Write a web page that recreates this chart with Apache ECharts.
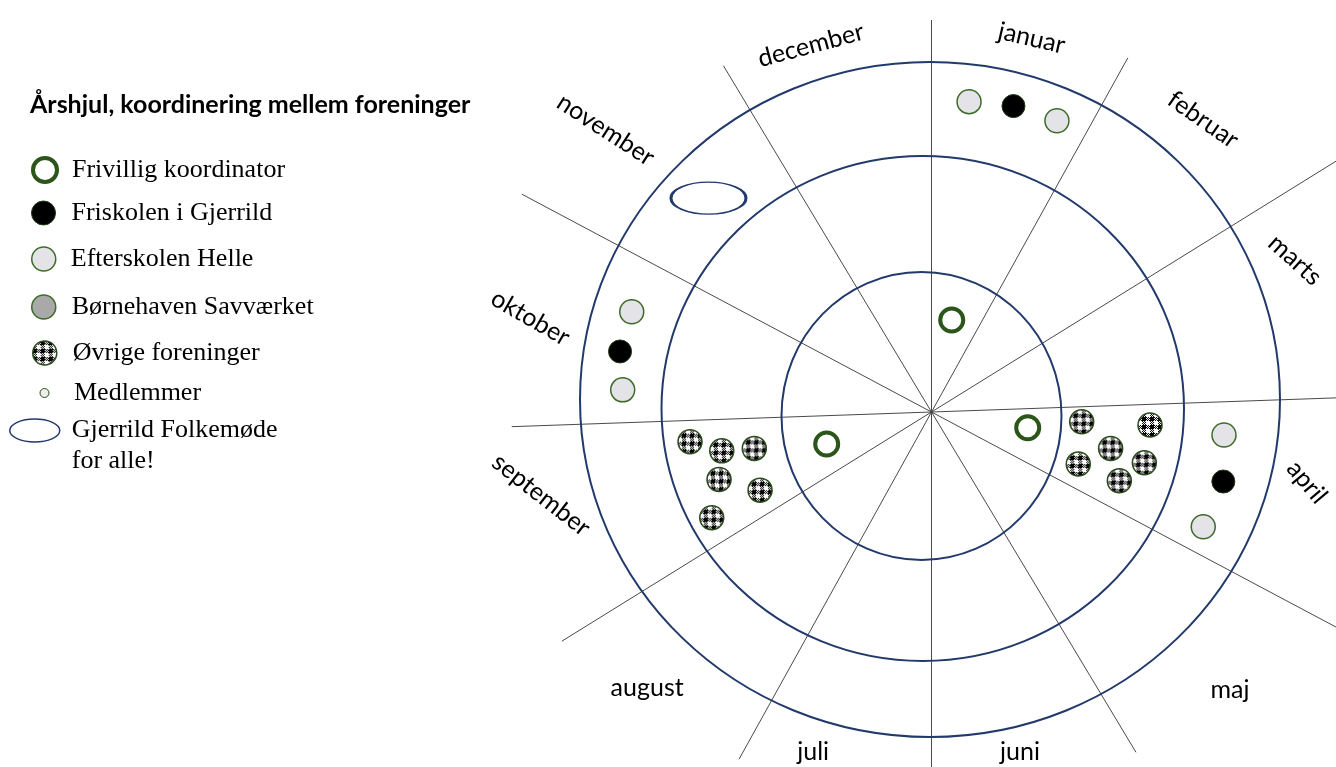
<!DOCTYPE html>
<html><head><meta charset="utf-8">
<script src="https://cdn.jsdelivr.net/npm/echarts@6/dist/echarts.min.js"></script>
<style>html,body{margin:0;padding:0;background:#fff}#c{width:1336px;height:767px}</style>
</head><body><div id="c"></div>
<script>
// ================= DATA =================
// Angles are degrees clockwise from 12 o'clock; radii are wheel units.
const months = ['januar','februar','marts','april','maj','juni','juli','august','september','oktober','november','december'];
const monthLabelAngle  = [15, 42.9, 67.3, 100.6, 133, 165.4, 199.2, 225.9, 258, 283.2, 310.9, 341.8];
const monthLabelRadius = [387, 399, 394, 382, 408, 351, 360, 396, 399, 412, 431, 386];

// month-boundary spokes (each a straight line through the hub)
const spokeAngle     = [0, 29, 58.2, 88, 118, 149];
const spokeLenFwd    = [392, 405, 480, 480, 480, 397];   // length toward spokeAngle
const spokeLenBack   = [480, 397, 435, 420, 464, 404];   // length toward spokeAngle + 180

// the three hand drawn rings, radius measured toward 12, 3, 6 and 9 o'clock
const ringTop    = [140, 256, 350];
const ringRight  = [130, 252.5, 348.5];
const ringBottom = [148, 249, 325];
const ringLeft   = [150, 270, 351.5];

// activities: [radius, angle]
const frivillig   = [[94.2, 12.4], [97.5, 99.3], [109.6, 253]];
const friskolen   = [[316.7, 15.0], [317.3, 281.0], [300, 103.4]];
const efterskolen = [[312.6, 6.9], [317.1, 23.3], [316.1, 288.5], [309.6, 274.1], [293.4, 94.5], [295, 112.9]];
const boernehaven = [];
const oevrige     = [[243.3, 263], [213.3, 259.5], [180.9, 258.4], [222.9, 252.4], [188.4, 245.5], [243.9, 244.3],
                     [150.5, 93.7], [218.9, 93.4], [182.8, 101.5], [155.7, 109.5], [218.8, 103.4], [200, 110.1]];
const medlemmer   = [];
const folkemoede  = [[309, 313.8]];

const titleText = 'Årshjul, koordinering mellem foreninger';
const seriesNames = ['Frivillig koordinator', 'Friskolen i Gjerrild', 'Efterskolen Helle', 'Børnehaven Savværket',
                     'Øvrige foreninger', 'Medlemmer', 'Gjerrild Folkemøde\nfor alle!'];

// ================= STYLE / BUILD =================
const GREEN = '#2c5519', RING = '#22396b', SPOKE = '#4a4a4a';
const labelRotate = [-13, -35, -42, -50, 0, 0, 0, 0, -38, -30, -33, 15];
const ELLIPSE = 'path://M0,10A10,10,0,1,1,20,10A10,10,0,1,1,0,10Z';
const CHECK_SIZE = 24;

function makeGingham() {
  const n = 8, c = document.createElement('canvas'); c.width = n; c.height = n;
  const g = c.getContext('2d');
  g.fillStyle = '#fff'; g.fillRect(0, 0, n, n);
  g.fillStyle = '#000';
  for (let y = 0; y < n; y++) for (let x = 0; x < n; x++) {
    const a = x < 4, b = y < 4;
    if ((a && b) || (a !== b && (x + y) % 2 === 0)) g.fillRect(x, y, 1, 1);
  }
  return c;
}
const ginghamImg = makeGingham();
// scatter symbols are drawn as unit shapes scaled by size/2, so compensate
const ginghamSymbol = { image: ginghamImg, repeat: 'repeat', scaleX: 2 / CHECK_SIZE, scaleY: 2 / CHECK_SIZE };
const ginghamLegend = { image: ginghamImg, repeat: 'repeat' };

const chart = echarts.init(document.getElementById('c'), null, { renderer: 'canvas' });

const series = [];
// spokes
spokeAngle.forEach((a, i) => {
  series.push({
    type: 'line', coordinateSystem: 'polar', silent: true, showSymbol: false, clip: false, z: 1,
    lineStyle: { color: SPOKE, width: 1 },
    data: [[spokeLenFwd[i], a], [0, a], [spokeLenBack[i], a + 180]]
  });
});
// rings
series.push({
  type: 'custom', coordinateSystem: 'polar', silent: true, z: 2,
  data: ringTop.map((t, i) => [t, ringRight[i], ringBottom[i], ringLeft[i]]),
  renderItem(params, api) {
    const top = api.coord([api.value(0), 0]);
    const right = api.coord([api.value(1), 90]);
    const bottom = api.coord([api.value(2), 180]);
    const left = api.coord([api.value(3), 270]);
    return {
      type: 'ellipse',
      shape: { cx: (left[0] + right[0]) / 2, cy: (top[1] + bottom[1]) / 2,
               rx: (right[0] - left[0]) / 2, ry: (bottom[1] - top[1]) / 2 },
      style: { fill: 'none', stroke: RING, lineWidth: 2 }
    };
  }
});
// markers
const markerDefs = [
  { name: seriesNames[0], data: frivillig, symbol: 'circle', symbolSize: 23, itemStyle: { color: 'rgba(255,255,255,0)', borderColor: GREEN, borderWidth: 4 } },
  { name: seriesNames[1], data: friskolen, symbol: 'circle', symbolSize: 23, itemStyle: { color: '#000', borderColor: '#1f3a14', borderWidth: 1 } },
  { name: seriesNames[2], data: efterskolen, symbol: 'circle', symbolSize: 24, itemStyle: { color: '#e4e3e8', borderColor: '#3d6b2a', borderWidth: 1.5 } },
  { name: seriesNames[3], data: boernehaven, symbol: 'circle', symbolSize: 24, itemStyle: { color: '#a9a9a9', borderColor: '#3d6b2a', borderWidth: 1.5 } },
  { name: seriesNames[4], data: oevrige, symbol: 'circle', symbolSize: CHECK_SIZE, itemStyle: { color: ginghamSymbol, borderColor: '#2c4a1c', borderWidth: 1.5 } },
  { name: seriesNames[5], data: medlemmer, symbol: 'circle', symbolSize: 9, itemStyle: { color: '#eeeeee', borderColor: '#2c4a1c', borderWidth: 1 } },
  { name: seriesNames[6], data: folkemoede, symbol: ELLIPSE, symbolSize: [75, 32], itemStyle: { color: 'rgba(255,255,255,0)', borderColor: RING, borderWidth: 2 } }
];
markerDefs.forEach(d => {
  d.itemStyle.opacity = 1;
  series.push(Object.assign({ type: 'scatter', coordinateSystem: 'polar', z: 5, silent: true }, d));
});
// month labels
series.push({
  type: 'scatter', coordinateSystem: 'polar', silent: true, z: 6, symbolSize: 1,
  itemStyle: { color: 'rgba(0,0,0,0)', opacity: 1 },
  label: { show: true, position: 'inside', formatter: '{b}', fontFamily: 'Lato', fontSize: 25, color: '#000', opacity: 1 },
  data: months.map((m, i) => ({ name: m, value: [monthLabelRadius[i], monthLabelAngle[i]], label: { rotate: labelRotate[i] } }))
});

// legends (one per entry for exact placement)
const legendTxt = { fontFamily: 'Liberation Serif', fontSize: 26, color: '#000', lineHeight: 30 };
const lg = (name, left, top, w, h, padL, extra) => Object.assign({
  data: [name], left, top, itemWidth: w, itemHeight: h, padding: 0, selectedMode: false, orient: 'vertical',
  textStyle: Object.assign({}, legendTxt, { padding: [0, 0, 0, padL] })
}, extra || {});
const legends = [
  lg(seriesNames[0], 31, 155, 24, 24, 10, { itemStyle: { borderWidth: 4, borderColor: GREEN, opacity: 1 } }),
  lg(seriesNames[1], 31, 198, 24, 24, 11, { itemStyle: { borderWidth: 1, opacity: 1 } }),
  lg(seriesNames[2], 31, 244, 24, 24, 10, { itemStyle: { borderWidth: 1.5, opacity: 1 } }),
  lg(seriesNames[3], 31, 292, 24, 24, 11, { itemStyle: { borderWidth: 1.5, opacity: 1 } }),
  lg(seriesNames[4], 32, 338, 24, 24, 11, { itemStyle: { borderWidth: 1.5, color: ginghamLegend, opacity: 1 } }),
  lg(seriesNames[5], 39.5, 378, 9, 9, 20, { itemStyle: { borderWidth: 1, opacity: 1 } }),
  lg(seriesNames[6], 9, 384, 50, 23, 7, { symbolKeepAspect: false, itemStyle: { borderWidth: 1.5, opacity: 1 },
     formatter: n => '\n' + n,
     textStyle: Object.assign({}, legendTxt, { lineHeight: 31, padding: [0, 0, 0, 7] }) })
];

chart.setOption({
  animation: false,
  backgroundColor: '#fff',
  title: { text: titleText, left: 30, top: 91, padding: 0,
           textStyle: { fontFamily: 'Lato', fontWeight: 'bold', fontSize: 25, color: '#000', lineHeight: 28 } },
  legend: legends,
  polar: { center: [931.5, 412], radius: 480 },
  angleAxis: { type: 'value', min: 0, max: 360, startAngle: 90, clockwise: true,
               axisLine: { show: false }, axisTick: { show: false }, axisLabel: { show: false }, splitLine: { show: false } },
  radiusAxis: { type: 'value', min: 0, max: 480,
                axisLine: { show: false }, axisTick: { show: false }, axisLabel: { show: false }, splitLine: { show: false } },
  series
});
</script></body></html>
